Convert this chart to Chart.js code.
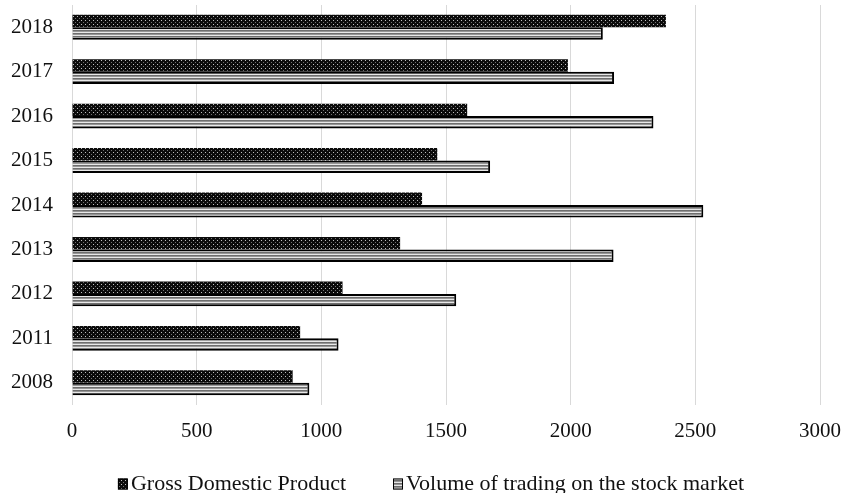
<!DOCTYPE html>
<html>
<head>
<meta charset="utf-8">
<script src="https://cdn.jsdelivr.net/npm/chart.js@4.4.1/dist/chart.umd.min.js"></script>
<style>
  html, body { margin: 0; padding: 0; background: #ffffff; }
  #wrap { width: 844px; height: 493px; position: relative; }
</style>
</head>
<body>
<div id="wrap"><canvas id="c" width="844" height="493"></canvas></div>
<script>
// ---- Data (chronological order; displayed with 2018 at top) ----
const years = ['2008', '2011', '2012', '2013', '2014', '2015', '2016', '2017', '2018'];
const gdpValues = [885, 915, 1085, 1316, 1404, 1465, 1585, 1989, 2382];
const stockValues = [952, 1069, 1541, 2172, 2532, 1677, 2332, 2174, 2129];
const seriesNames = ['Gross Domestic Product', 'Volume of trading on the stock market'];
const xTicks = [0, 500, 1000, 1500, 2000, 2500, 3000];

const FONT = '"Liberation Serif", "Times New Roman", serif';

function makeDotPattern() {
  const c = document.createElement('canvas');
  c.width = 4; c.height = 4;
  const g = c.getContext('2d');
  g.fillStyle = '#0b0b0b'; g.fillRect(0, 0, 4, 4);
  g.fillStyle = '#c0c0c0'; g.fillRect(1, 0, 1, 1);
  g.fillStyle = '#707070'; g.fillRect(3, 2, 1, 1);
  return g.createPattern(c, 'repeat');
}
function makeStripePattern() {
  const c = document.createElement('canvas');
  c.width = 2; c.height = 3;
  const g = c.getContext('2d');
  g.fillStyle = '#6e6e6e'; g.fillRect(0, 0, 2, 1);
  g.fillStyle = '#969696'; g.fillRect(0, 1, 2, 1);
  g.fillStyle = '#e8e8e8'; g.fillRect(0, 2, 2, 1);
  return g.createPattern(c, 'repeat');
}
const dotPattern = makeDotPattern();
const stripePattern = makeStripePattern();

const bottomLegend = {
  id: 'bottomLegend',
  afterDraw(chart) {
    const ctx = chart.ctx;
    ctx.save();
    ctx.font = '22px ' + FONT;
    ctx.textBaseline = 'middle';
    ctx.textAlign = 'left';
    const boxW = 10, boxH = 11, gap = 3, spacing = 47;
    const ds = chart.data.datasets;
    const widths = ds.map(d => boxW + gap + ctx.measureText(d.label).width);
    const total = widths.reduce((a, b) => a + b, 0) + spacing * (ds.length - 1);
    let x = 431 - total / 2;
    const y = 484;
    ds.forEach((d, i) => {
      ctx.fillStyle = d.backgroundColor;
      ctx.fillRect(x, y - boxH / 2, boxW, boxH);
      ctx.strokeStyle = '#000';
      ctx.lineWidth = 1;
      ctx.strokeRect(x + 0.5, y - boxH / 2 + 0.5, boxW - 1, boxH - 1);
      ctx.fillStyle = '#111';
      ctx.fillText(d.label, x + boxW + gap, y);
      x += widths[i] + spacing;
    });
    ctx.restore();
  }
};

new Chart(document.getElementById('c'), {
  type: 'bar',
  data: {
    labels: years,
    datasets: [
      {
        label: seriesNames[0],
        data: gdpValues,
        backgroundColor: dotPattern,
        borderColor: '#000',
        borderWidth: 0,
        categoryPercentage: 0.56,
        barPercentage: 1.0
      },
      {
        label: seriesNames[1],
        data: stockValues,
        backgroundColor: stripePattern,
        borderColor: '#000',
        borderWidth: 2,
        categoryPercentage: 0.56,
        barPercentage: 1.0
      }
    ]
  },
  options: {
    indexAxis: 'y',
    responsive: false,
    animation: false,
    maintainAspectRatio: false,
    layout: { padding: { top: 5, right: 24, bottom: 43, left: 0 } },
    plugins: {
      legend: { display: false },
      tooltip: { enabled: false }
    },
    scales: {
      x: {
        min: 0,
        max: 3000,
        afterBuildTicks(scale) { scale.ticks = xTicks.map(v => ({ value: v })); },
        afterFit(scale) { scale.height = 45; scale.paddingLeft = 0; scale.paddingRight = 0; },
        grid: { color: '#d9d9d9', lineWidth: 1, drawTicks: false },
        border: { display: false },
        ticks: {
          color: '#111',
          font: { family: FONT, size: 21 },
          padding: 14,
          maxRotation: 0,
          callback: (v) => String(v)
        }
      },
      y: {
        reverse: true,
        afterFit(scale) { scale.width = 72; scale.paddingTop = 0; scale.paddingBottom = 0; },
        grid: { display: false, drawTicks: false },
        border: { display: false },
        ticks: {
          color: '#111',
          font: { family: FONT, size: 21 },
          padding: 19
        }
      }
    }
  },
  plugins: [bottomLegend]
});
</script>
</body>
</html>
